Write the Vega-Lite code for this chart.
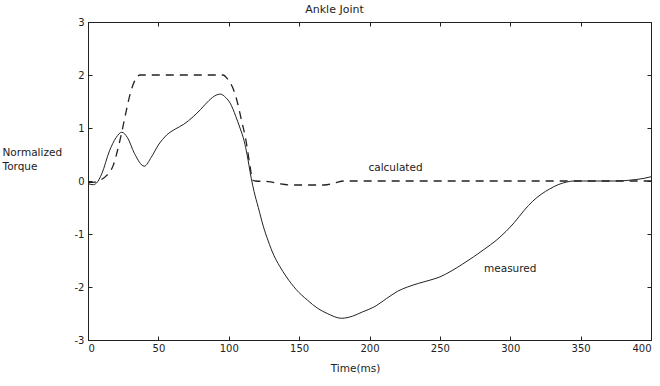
{
  "$schema": "https://vega.github.io/schema/vega-lite/v6.json",
  "autosize": "none",
  "width": 563,
  "height": 318,
  "padding": {"left": 88, "top": 22, "right": 9, "bottom": 46},
  "background": "white",
  "title": {"text": "Ankle Joint", "fontSize": 11, "fontWeight": "normal", "font": "DejaVu Sans", "color": "#222", "anchor": "middle", "dx": -35, "offset": 2},
  "config": {
    "view": {"stroke": "#222", "strokeWidth": 1},
    "axis": {"labelFont": "DejaVu Sans", "titleFont": "DejaVu Sans", "labelFontSize": 10, "titleFontSize": 10.5, "titleFontWeight": "normal", "labelColor": "#222", "titleColor": "#222", "tickColor": "#222", "domainColor": "#222", "grid": false}
  },
  "datasets": {
    "curves": [
      {"t": 0, "v": -0.05, "series": "measured"},
      {"t": 3.5, "v": -0.07, "series": "measured"},
      {"t": 6, "v": -0.04, "series": "measured"},
      {"t": 10, "v": 0.15, "series": "measured"},
      {"t": 15, "v": 0.55, "series": "measured"},
      {"t": 20, "v": 0.82, "series": "measured"},
      {"t": 24, "v": 0.92, "series": "measured"},
      {"t": 28, "v": 0.82, "series": "measured"},
      {"t": 33, "v": 0.52, "series": "measured"},
      {"t": 40, "v": 0.28, "series": "measured"},
      {"t": 45, "v": 0.45, "series": "measured"},
      {"t": 50, "v": 0.68, "series": "measured"},
      {"t": 56, "v": 0.87, "series": "measured"},
      {"t": 62, "v": 0.98, "series": "measured"},
      {"t": 68, "v": 1.07, "series": "measured"},
      {"t": 75, "v": 1.22, "series": "measured"},
      {"t": 80, "v": 1.35, "series": "measured"},
      {"t": 86, "v": 1.52, "series": "measured"},
      {"t": 91, "v": 1.62, "series": "measured"},
      {"t": 94, "v": 1.64, "series": "measured"},
      {"t": 98, "v": 1.57, "series": "measured"},
      {"t": 101, "v": 1.47, "series": "measured"},
      {"t": 105, "v": 1.22, "series": "measured"},
      {"t": 108, "v": 1.0, "series": "measured"},
      {"t": 111, "v": 0.75, "series": "measured"},
      {"t": 113, "v": 0.5, "series": "measured"},
      {"t": 116, "v": 0.05, "series": "measured"},
      {"t": 118, "v": -0.2, "series": "measured"},
      {"t": 121, "v": -0.5, "series": "measured"},
      {"t": 124.5, "v": -0.85, "series": "measured"},
      {"t": 128, "v": -1.13, "series": "measured"},
      {"t": 132, "v": -1.4, "series": "measured"},
      {"t": 136, "v": -1.6, "series": "measured"},
      {"t": 141, "v": -1.81, "series": "measured"},
      {"t": 148, "v": -2.05, "series": "measured"},
      {"t": 156, "v": -2.25, "series": "measured"},
      {"t": 163, "v": -2.4, "series": "measured"},
      {"t": 170, "v": -2.5, "series": "measured"},
      {"t": 180, "v": -2.59, "series": "measured"},
      {"t": 188, "v": -2.55, "series": "measured"},
      {"t": 195, "v": -2.47, "series": "measured"},
      {"t": 203, "v": -2.38, "series": "measured"},
      {"t": 212, "v": -2.22, "series": "measured"},
      {"t": 220, "v": -2.08, "series": "measured"},
      {"t": 227, "v": -2.0, "series": "measured"},
      {"t": 235, "v": -1.93, "series": "measured"},
      {"t": 243, "v": -1.87, "series": "measured"},
      {"t": 250, "v": -1.81, "series": "measured"},
      {"t": 258, "v": -1.7, "series": "measured"},
      {"t": 266, "v": -1.57, "series": "measured"},
      {"t": 274, "v": -1.43, "series": "measured"},
      {"t": 282, "v": -1.28, "series": "measured"},
      {"t": 290, "v": -1.12, "series": "measured"},
      {"t": 297, "v": -0.95, "series": "measured"},
      {"t": 303, "v": -0.78, "series": "measured"},
      {"t": 310, "v": -0.55, "series": "measured"},
      {"t": 316, "v": -0.38, "series": "measured"},
      {"t": 322, "v": -0.25, "series": "measured"},
      {"t": 328, "v": -0.15, "series": "measured"},
      {"t": 334, "v": -0.07, "series": "measured"},
      {"t": 340, "v": -0.02, "series": "measured"},
      {"t": 345, "v": 0, "series": "measured"},
      {"t": 360, "v": 0, "series": "measured"},
      {"t": 375, "v": 0, "series": "measured"},
      {"t": 383, "v": 0.01, "series": "measured"},
      {"t": 390, "v": 0.03, "series": "measured"},
      {"t": 395, "v": 0.05, "series": "measured"},
      {"t": 400, "v": 0.08, "series": "measured"},
      {"t": 0, "v": -0.03, "series": "calculated"},
      {"t": 5, "v": -0.02, "series": "calculated"},
      {"t": 9, "v": 0.02, "series": "calculated"},
      {"t": 13.5, "v": 0.11, "series": "calculated"},
      {"t": 18, "v": 0.3, "series": "calculated"},
      {"t": 21, "v": 0.58, "series": "calculated"},
      {"t": 24, "v": 0.92, "series": "calculated"},
      {"t": 27, "v": 1.3, "series": "calculated"},
      {"t": 30, "v": 1.65, "series": "calculated"},
      {"t": 33, "v": 1.88, "series": "calculated"},
      {"t": 37, "v": 2.0, "series": "calculated"},
      {"t": 60, "v": 2.0, "series": "calculated"},
      {"t": 80, "v": 2.0, "series": "calculated"},
      {"t": 96, "v": 2.0, "series": "calculated"},
      {"t": 99, "v": 1.93, "series": "calculated"},
      {"t": 103, "v": 1.75, "series": "calculated"},
      {"t": 106, "v": 1.5, "series": "calculated"},
      {"t": 109, "v": 1.15, "series": "calculated"},
      {"t": 112, "v": 0.8, "series": "calculated"},
      {"t": 115, "v": 0.3, "series": "calculated"},
      {"t": 117, "v": 0.02, "series": "calculated"},
      {"t": 119, "v": 0, "series": "calculated"},
      {"t": 128, "v": -0.01, "series": "calculated"},
      {"t": 136, "v": -0.05, "series": "calculated"},
      {"t": 145, "v": -0.075, "series": "calculated"},
      {"t": 168, "v": -0.075, "series": "calculated"},
      {"t": 175, "v": -0.04, "series": "calculated"},
      {"t": 182, "v": 0, "series": "calculated"},
      {"t": 250, "v": 0, "series": "calculated"},
      {"t": 350, "v": 0, "series": "calculated"},
      {"t": 400, "v": 0, "series": "calculated"}
    ],
    "labels": [
      {"t": 218.5, "v": 0.24, "label": "calculated"},
      {"t": 300, "v": -1.66, "label": "measured"}
    ]
  },
  "layer": [
    {
      "data": {"name": "curves"},
      "transform": [{"filter": "datum.series === 'measured'"}],
      "mark": {"type": "line", "color": "#222", "strokeWidth": 1, "interpolate": "monotone"},
      "encoding": {
        "x": {"field": "t", "type": "quantitative", "scale": {"domain": [0, 400], "nice": false, "zero": false},
              "axis": {"orient": "bottom", "values": [0, 50, 100, 150, 200, 250, 300, 350, 400], "tickSize": -4, "labelPadding": 7, "title": "Time(ms)", "titleX": 267, "titlePadding": 10}},
        "y": {"field": "v", "type": "quantitative", "scale": {"domain": [-3, 3], "nice": false, "zero": false},
              "axis": {"orient": "left", "values": [-3, -2, -1, 0, 1, 2, 3], "tickSize": -4, "labelPadding": 8, "labelExpr": "replace(datum.label, '−', '-')", "title": ["Normalized", "Torque"], "titleAngle": 0, "titleAlign": "left", "titleBaseline": "middle", "titleX": -86, "titleY": 130, "titleLineHeight": 14}}
      }
    },
    {
      "data": {"name": "curves"},
      "transform": [{"filter": "datum.series === 'calculated'"}],
      "mark": {"type": "line", "color": "#222", "strokeWidth": 1.3, "strokeDash": [8, 6], "interpolate": "monotone"},
      "encoding": {
        "x": {"field": "t", "type": "quantitative", "axis": {"orient": "top", "values": [0, 50, 100, 150, 200, 250, 300, 350, 400], "tickSize": -4, "labels": false, "title": null}},
        "y": {"field": "v", "type": "quantitative", "axis": {"orient": "right", "values": [-3, -2, -1, 0, 1, 2, 3], "tickSize": -4, "labels": false, "title": null}}
      }
    },
    {
      "data": {"name": "labels"},
      "mark": {"type": "text", "font": "DejaVu Sans", "fontSize": 10.5, "color": "#222"},
      "encoding": {
        "x": {"field": "t", "type": "quantitative", "axis": null},
        "y": {"field": "v", "type": "quantitative", "axis": null},
        "text": {"field": "label"}
      }
    }
  ],
  "resolve": {"axis": {"x": "independent", "y": "independent"}}
}
